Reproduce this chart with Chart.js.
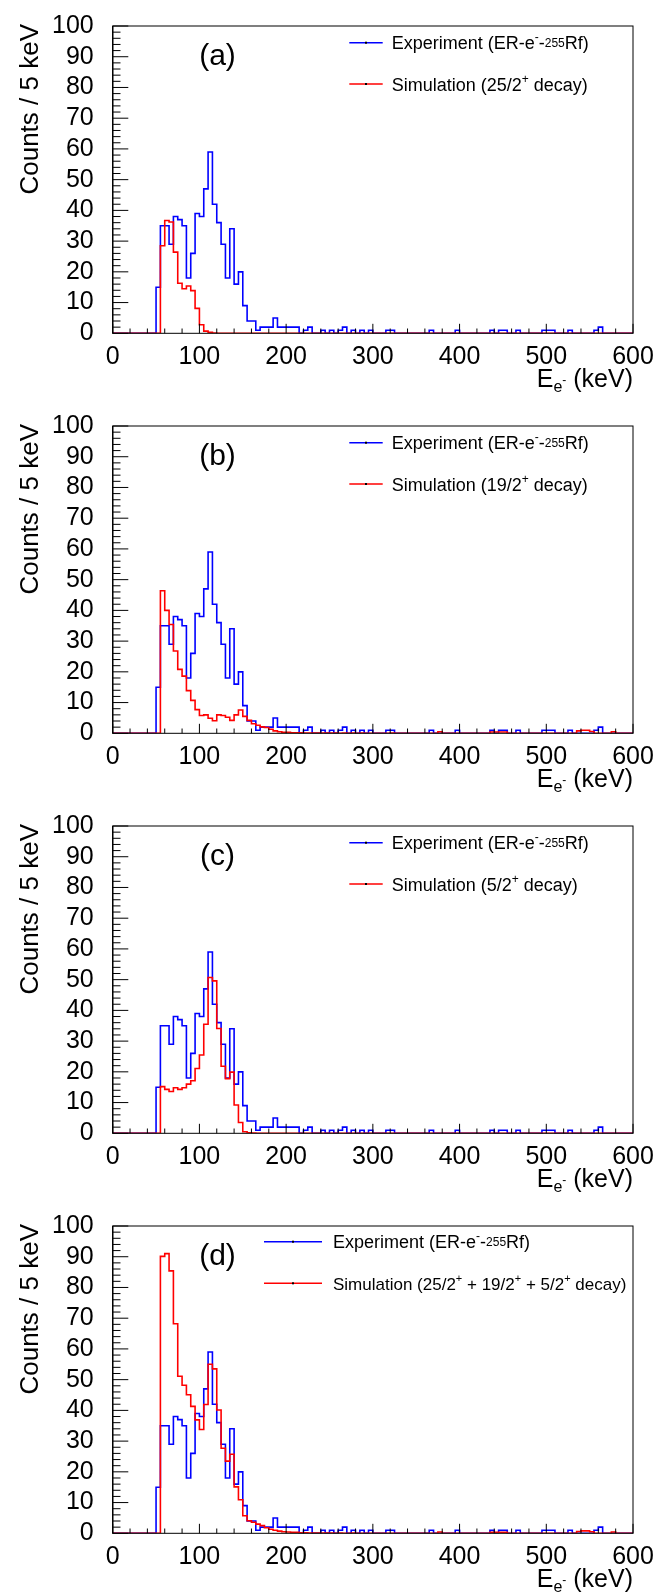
<!DOCTYPE html>
<html>
<head>
<meta charset="utf-8">
<script src="https://cdn.jsdelivr.net/npm/chart.js@4.4.1/dist/chart.umd.min.js"></script>
<style>
  body { margin: 0; background: #fff; }
  canvas { display: block; }
</style>
</head>
<body>
<canvas id="chartA" width="672" height="400"></canvas>
<canvas id="chartB" width="672" height="400"></canvas>
<canvas id="chartC" width="672" height="400"></canvas>
<canvas id="chartD" width="672" height="392"></canvas>
<script>
// 5 keV bins from 0 to 600 keV
const binWidth = 5;
const xTicks = [0, 100, 200, 300, 400, 500, 600];
const yTicks = [0, 10, 20, 30, 40, 50, 60, 70, 80, 90, 100];

// ER-e- -255Rf experiment (same in every panel)
const experiment = [
  0, 0, 0, 0, 0, 0, 0, 0, 0, 0,
  15, 35, 35, 29, 38, 37, 35, 18, 26, 39,
  38, 47, 59, 42, 36, 29, 18, 34, 16, 20,
  9, 4, 4, 1, 2, 2, 2, 5, 2, 2,
  2, 2, 2, 0, 1, 2, 0, 0, 1, 0,
  1, 0, 1, 2, 0, 1, 0, 1, 0, 1,
  0, 0, 0, 1, 1, 0, 0, 0, 0, 0,
  0, 0, 0, 1, 0, 0, 0, 0, 0, 1,
  0, 0, 0, 0, 0, 0, 0, 1, 0, 1,
  1, 0, 0, 1, 0, 0, 0, 0, 0, 1,
  1, 1, 0, 0, 0, 1, 0, 0, 0, 0,
  0, 1, 2, 0, 0, 0, 0, 0, 0, 0
];

// simulation 25/2+ decay
const sim25 = [
  0, 0, 0, 0, 0, 0, 0, 0, 0, 0,
  0, 28.5, 36.7, 36.2, 26.4, 16.3, 14.5, 15.4, 13.9, 8.1,
  2.8, 0.7, 0.3, 0.1, 0, 0, 0, 0, 0, 0,
  0, 0, 0, 0, 0, 0, 0, 0, 0, 0,
  0, 0, 0, 0, 0, 0, 0, 0, 0, 0,
  0, 0, 0, 0, 0, 0, 0, 0, 0, 0,
  0, 0, 0, 0, 0, 0, 0, 0, 0, 0,
  0, 0, 0, 0, 0, 0, 0, 0, 0, 0,
  0, 0, 0, 0, 0, 0, 0, 0, 0, 0,
  0, 0, 0, 0, 0, 0, 0, 0, 0, 0,
  0, 0, 0, 0, 0, 0, 0, 0, 0, 0,
  0, 0, 0, 0, 0, 0, 0, 0, 0, 0
];

// simulation 19/2+ decay
const sim19 = [
  0, 0, 0, 0, 0, 0, 0, 0, 0, 0,
  0, 46.4, 40, 35.4, 26.8, 20.8, 18.6, 13.9, 10.7, 7.7,
  5.8, 6.0, 4.9, 4.1, 6.0, 5.8, 5.2, 4.2, 6.0, 7.6,
  5.5, 4.2, 3.1, 2.6, 2.1, 1.9, 1.3, 0.8, 0.5, 0.3,
  0.3, 0.2, 0.2, 0.2, 0.1, 0.1, 0.1, 0.1, 0.1, 0.1,
  0.1, 0.1, 0, 0.1, 0, 0.1, 0, 0.1, 0, 0,
  0, 0, 0, 0, 0.1, 0, 0, 0, 0, 0,
  0, 0, 0, 0, 0, 0.5, 0, 0, 0, 0,
  0, 0, 0, 0, 0, 0, 0, 0.4, 0.4, 0.4,
  0.4, 0, 0, 0, 0, 0, 0, 0, 0, 0,
  0, 0, 0, 0, 0, 0, 0, 0.8, 1, 1,
  0.6, 0, 0, 0, 0, 0.5, 0, 0, 0, 0
];

// simulation 5/2+ decay
const sim5 = [
  0, 0, 0, 0, 0, 0, 0, 0, 0, 0,
  0, 15.2, 14.3, 13.6, 14.8, 14.3, 14.8, 16, 17.1, 21.1,
  25.5, 35.5, 50.7, 49.6, 34.1, 21.8, 17.8, 19.9, 9.2, 3.5,
  0.5, 0.2, 0.1, 0, 0, 0, 0, 0, 0, 0,
  0, 0, 0, 0, 0, 0, 0, 0, 0, 0,
  0, 0, 0, 0, 0, 0, 0, 0, 0, 0,
  0, 0, 0, 0, 0, 0, 0, 0, 0, 0,
  0, 0, 0, 0, 0, 0, 0, 0, 0, 0,
  0, 0, 0, 0, 0, 0, 0, 0, 0, 0,
  0, 0, 0, 0, 0, 0, 0, 0, 0, 0,
  0, 0, 0, 0, 0, 0, 0, 0, 0, 0,
  0, 0, 0, 0, 0, 0, 0, 0, 0, 0
];

// simulation 25/2+ + 19/2+ + 5/2+ decay
const simSum = [
  0, 0, 0, 0, 0, 0, 0, 0, 0, 0,
  0, 90.1, 91, 85.4, 68.2, 51.1, 48.2, 45.1, 41.3, 36.9,
  33.8, 41.9, 55, 53.5, 40.1, 27.7, 23.5, 25.7, 15.1, 10.9,
  5.7, 4.1, 3.6, 3.0, 2.5, 1.8, 1.3, 1.0, 0.7, 0.5,
  0.4, 0.3, 0.3, 0.2, 0.2, 0.1, 0.1, 0.1, 0.1, 0.1,
  0.1, 0, 0.1, 0, 0, 0.1, 0, 0, 0, 0,
  0, 0, 0, 0, 0, 0, 0, 0, 0, 0,
  0, 0, 0, 0, 0, 0.4, 0, 0, 0, 0,
  0, 0, 0, 0, 0, 0, 0, 0.3, 0.3, 0.3,
  0.3, 0, 0, 0, 0, 0, 0, 0, 0, 0,
  0, 0, 0, 0, 0, 0, 0, 0.6, 0.8, 0.8,
  0.5, 0, 0, 0, 0, 0.4, 0, 0, 0, 0
];

const FONT = '"Liberation Sans", Arial, Helvetica, sans-serif';
const PLOT_LEFT = 112.7;
const PLOT_TOP = 15.7;
const PLOT_BOTTOM = 333.3;
const PLOT_RIGHT_PAD = 39;

// each bin value is held from its low edge to the next edge
function toSteps(counts) {
  const pts = counts.map((c, i) => ({ x: i * binWidth, y: c }));
  pts.push({ x: counts.length * binWidth, y: counts[counts.length - 1] });
  return pts;
}

// draws a row of text pieces: [text, size, dy]
function drawRich(ctx, parts, x, y, align) {
  let w = 0;
  parts.forEach((p) => {
    ctx.font = p[1] + "px " + FONT;
    w += ctx.measureText(p[0]).width;
  });
  let cx = align === "right" ? x - w : x;
  ctx.textAlign = "left";
  ctx.textBaseline = "alphabetic";
  parts.forEach((p) => {
    ctx.font = p[1] + "px " + FONT;
    ctx.fillText(p[0], cx, y + p[2]);
    cx += ctx.measureText(p[0]).width;
  });
}

const rootStyle = {
  id: "rootStyle",
  afterDraw(chart, args, opts) {
    const { ctx, chartArea: a } = chart;
    const x = chart.scales.x;
    const y = chart.scales.y;
    ctx.save();

    // frame
    ctx.strokeStyle = "#000";
    ctx.lineWidth = 1;
    ctx.strokeRect(a.left, a.top, a.right - a.left, a.bottom - a.top);
    ctx.lineWidth = 1.4;
    ctx.beginPath();
    ctx.moveTo(a.left, a.top);
    ctx.lineTo(a.left, a.bottom);
    ctx.stroke();

    // inward ticks like ROOT
    ctx.lineWidth = 1;
    ctx.beginPath();
    for (let v = 0; v <= 100; v += 2) {
      const py = y.getPixelForValue(v);
      const len = v % 10 === 0 ? 15.6 : 7.8;
      ctx.moveTo(a.left, py);
      ctx.lineTo(a.left + len, py);
    }
    for (let v = 0; v <= 600; v += 20) {
      const px = x.getPixelForValue(v);
      const len = v % 100 === 0 ? 9.5 : 4.8;
      ctx.moveTo(px, a.bottom);
      ctx.lineTo(px, a.bottom - len);
    }
    ctx.stroke();

    ctx.fillStyle = "#000";

    // y title
    ctx.save();
    ctx.translate(38, a.top - 2);
    ctx.rotate(-Math.PI / 2);
    ctx.font = "26px " + FONT;
    ctx.textAlign = "right";
    ctx.textBaseline = "alphabetic";
    ctx.fillText("Counts / 5 keV", 0, 0);
    ctx.restore();

    // x title
    drawRich(ctx, [["E", 25, 0], ["e", 16, 5], ["-", 12, -3], [" (keV)", 25, 0]], a.right, 387, "right");

    // panel label
    ctx.font = "30px " + FONT;
    ctx.textAlign = "center";
    ctx.textBaseline = "middle";
    ctx.fillText(opts.label, 217.5, 57);

    // legend
    const lg = opts.legend;
    const rows = [
      { color: "#0000ff", parts: [["Experiment (ER-e", 18, 0], ["-", 12, -8], ["-", 18, 0], ["255", 12, -2], ["Rf)", 18, 0]] },
      { color: "#ff0000", parts: opts.simText }
    ];
    rows.forEach((r, i) => {
      const ry = lg.y[i];
      ctx.strokeStyle = r.color;
      ctx.lineWidth = 1.5;
      ctx.beginPath();
      ctx.moveTo(lg.x1, ry);
      ctx.lineTo(lg.x2, ry);
      ctx.stroke();
      ctx.fillStyle = "#000";
      ctx.fillRect((lg.x1 + lg.x2) / 2 - 1, ry - 1, 2, 2);
      drawRich(ctx, r.parts, lg.tx, ry + 6.5, "left");
    });

    ctx.restore();
  }
};

function makeChart(id, sim, label, simText, legend) {
  const canvas = document.getElementById(id);
  const H = canvas.height;
  return new Chart(canvas, {
    type: "line",
    data: {
      datasets: [
        {
          label: "Simulation",
          data: toSteps(sim),
          borderColor: "#ff0000",
          borderWidth: 1.6,
          stepped: "before",
          pointRadius: 0,
          fill: false,
          order: 0
        },
        {
          label: "Experiment",
          data: toSteps(experiment),
          borderColor: "#0000ff",
          borderWidth: 1.6,
          stepped: "before",
          pointRadius: 0,
          fill: false,
          order: 1
        }
      ]
    },
    options: {
      responsive: false,
      animation: false,
      events: [],
      layout: { padding: { top: PLOT_TOP, right: PLOT_RIGHT_PAD, left: 0, bottom: 0 } },
      plugins: {
        legend: { display: false },
        tooltip: { enabled: false },
        rootStyle: { label, simText, legend }
      },
      scales: {
        x: {
          type: "linear",
          min: 0,
          max: 600,
          afterFit: (s) => { s.height = H - PLOT_BOTTOM; },
          afterBuildTicks: (s) => { s.ticks = xTicks.map((v) => ({ value: v })); },
          grid: { display: false },
          border: { display: false },
          ticks: { font: { family: FONT, size: 25 }, color: "#000", padding: 1, maxRotation: 0, autoSkip: false }
        },
        y: {
          type: "linear",
          min: 0,
          max: 100,
          afterFit: (s) => { s.width = PLOT_LEFT; },
          afterBuildTicks: (s) => { s.ticks = yTicks.map((v) => ({ value: v })); },
          grid: { display: false },
          border: { display: false },
          ticks: { font: { family: FONT, size: 25 }, color: "#000", padding: 11, autoSkip: false }
        }
      }
    },
    plugins: [rootStyle]
  });
}

const stdLegend = { x1: 349.3, x2: 382.7, tx: 391.7, y: [42.7, 84] };

makeChart("chartA", sim25, "(a)",
  [["Simulation (25/2", 18, 0], ["+", 12, -8], [" decay)", 18, 0]], stdLegend);
makeChart("chartB", sim19, "(b)",
  [["Simulation (19/2", 18, 0], ["+", 12, -8], [" decay)", 18, 0]], stdLegend);
makeChart("chartC", sim5, "(c)",
  [["Simulation (5/2", 18, 0], ["+", 12, -8], [" decay)", 18, 0]], stdLegend);
makeChart("chartD", simSum, "(d)",
  [["Simulation (25/2", 17, 0], ["+", 11, -8], [" + 19/2", 17, 0], ["+", 11, -8],
   [" + 5/2", 17, 0], ["+", 11, -8], [" decay)", 17, 0]],
  { x1: 264, x2: 322, tx: 333, y: [41.7, 83.3] });
</script>
</body>
</html>
